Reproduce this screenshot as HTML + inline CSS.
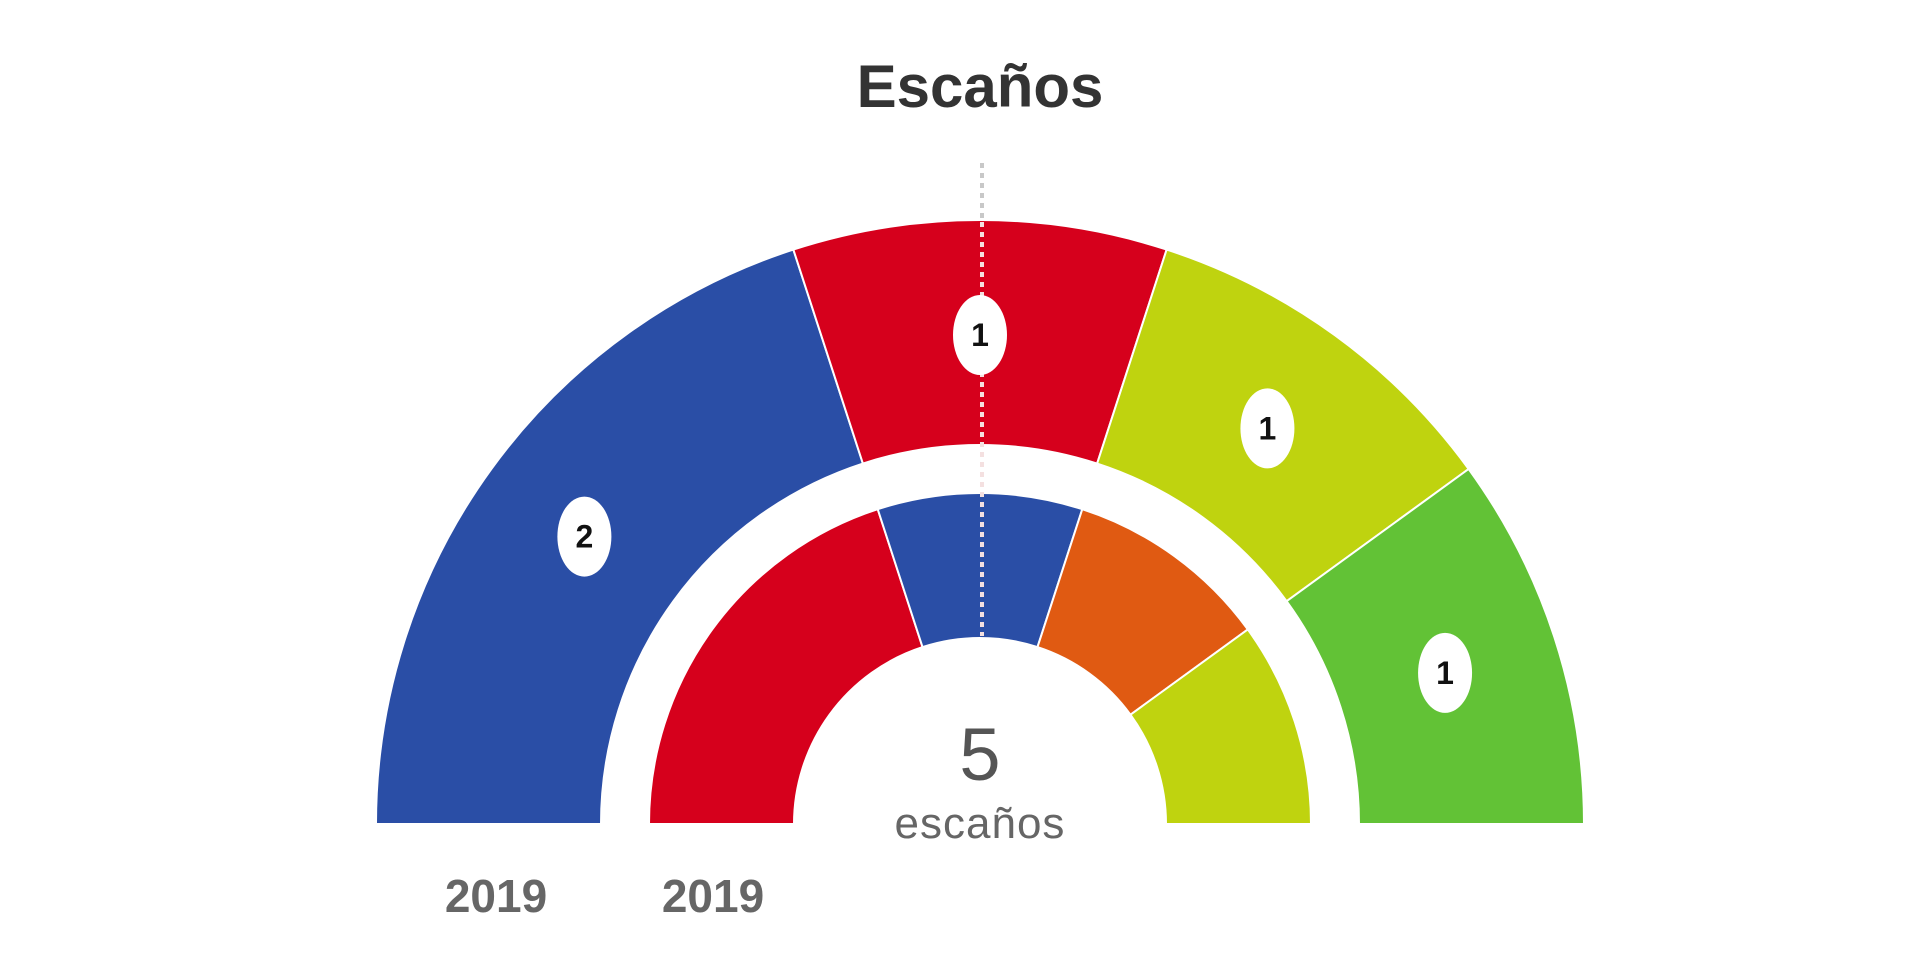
<!DOCTYPE html>
<html><head><meta charset="utf-8">
<style>
html,body{margin:0;padding:0;background:#fff;width:1920px;height:976px;overflow:hidden}
svg text{font-family:"Liberation Sans",sans-serif}
</style></head>
<body>
<svg id="chart" width="1920" height="976" viewBox="0 0 1920 976"></svg>
<script>
const outerParties=["PP","PSOE","Partido C","Partido D"];
const outerSeats=[2,1,1,1];
const outerColors=["#2a4ea6","#d6001c","#bfd30f","#62c236"];
const innerParties=["PSOE","PP","Partido E","Partido C"];
const innerSeats=[2,1,1,1];
const innerColors=["#d6001c","#2a4ea6","#e05a12","#bfd30f"];
const totalSeats=5;
const yearLabels=["2019","2019"];

const NS="http://www.w3.org/2000/svg";
const svg=document.getElementById('chart');
const cx=980, cy=824;
function mk(tag,attrs){const e=document.createElementNS(NS,tag);for(const k in attrs)e.setAttribute(k,attrs[k]);svg.appendChild(e);return e;}
function pt(r,a){return [cx-r*Math.cos(a),cy-r*Math.sin(a)];}
function arc(r0,r1,a0,a1){
  const p1=pt(r1,a0),p2=pt(r1,a1),p3=pt(r0,a1),p4=pt(r0,a0);
  return `M${p1[0]},${p1[1]} A${r1},${r1} 0 0 1 ${p2[0]},${p2[1]} L${p3[0]},${p3[1]} A${r0},${r0} 0 0 0 ${p4[0]},${p4[1]} Z`;
}

const title=mk('text',{x:cx,y:107,'text-anchor':'middle','font-size':60,'font-weight':'bold',fill:'#333'});
title.textContent='Escaños';



function ring(seats,colors,parties,r0,r1,labels,prefix){
  const tot=seats.reduce((a,b)=>a+b,0);
  let acc=0;
  seats.forEach((s,i)=>{
    const a0=Math.PI*acc/tot, a1=Math.PI*(acc+s)/tot;
    const p=mk('path',{d:arc(r0,r1,a0,a1),fill:colors[i],stroke:'#fff','stroke-width':2});
    
    
    acc+=s;
  });
  return tot;
}
ring(outerSeats,outerColors,outerParties,379,604,true,'outer');
ring(innerSeats,innerColors,innerParties,186,331,false,'inner');

// dotted center line
const dl1=mk('line',{x1:982,y1:163,x2:982,y2:222,stroke:'#c8c8c8','stroke-width':4,'stroke-dasharray':'5 5'});


const dl2=mk('line',{x1:982,y1:222,x2:982,y2:636,stroke:'#f4e0e0','stroke-width':4,'stroke-dasharray':'5 5'});



// labels on outer ring
(function(){
  const tot=outerSeats.reduce((a,b)=>a+b,0);
  let acc=0;
  outerSeats.forEach((s,i)=>{
    const am=Math.PI*(acc+s/2)/tot;
    const p=pt(489,am);
    const e=mk('ellipse',{cx:p[0],cy:p[1],rx:27,ry:40,fill:'#fff'});
    
    
    const t=mk('text',{x:p[0],y:p[1]+11,'text-anchor':'middle','font-size':32,'font-weight':'bold',fill:'#111'});
    t.textContent=String(s);
    
    
    acc+=s;
  });
})();

const n=mk('text',{x:cx,y:780,'text-anchor':'middle','font-size':74,fill:'#555','font-family':'"Liberation Serif",serif'});
n.textContent=String(totalSeats);


const es=mk('text',{x:cx,y:838,'text-anchor':'middle','font-size':44,fill:'#666','letter-spacing':1});
es.textContent='escaños';



[[496,yearLabels[0]],[713,yearLabels[1]]].forEach(([x,l],i)=>{
  const t=mk('text',{x:x,y:912,'text-anchor':'middle','font-size':46,'font-weight':'bold',fill:'#666'});
  t.textContent=l;
  
  
});
</script>
</body></html>
